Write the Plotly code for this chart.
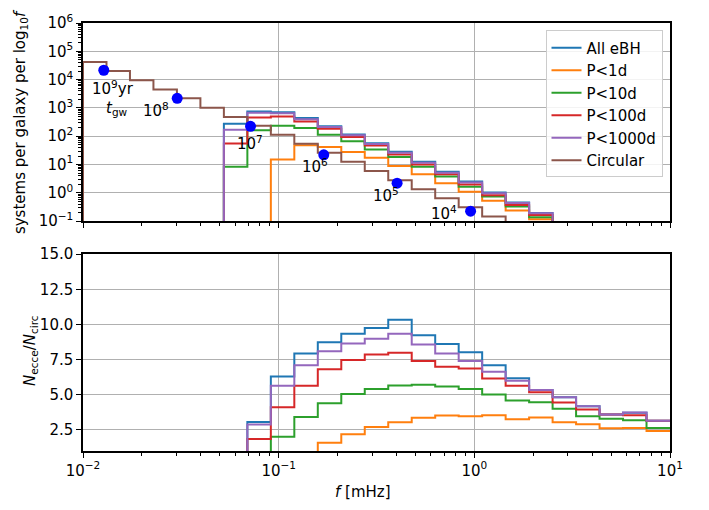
import math
import plotly.graph_objects as go

# ---------------- data ----------------
bin_edges_log10 = [-2.00, -1.88, -1.76, -1.64, -1.52, -1.40, -1.28, -1.16, -1.04, -0.92,
                   -0.80, -0.68, -0.56, -0.44, -0.32, -0.20, -0.08, 0.04, 0.16, 0.28,
                   0.40, 0.52, 0.64, 0.76, 0.88, 1.00]

series_names = ["All eBH", "P<1d", "P<10d", "P<100d", "P<1000d", "Circular"]
series_colors = ["#1f77b4", "#ff7f0e", "#2ca02c", "#d62728", "#9467bd", "#8c564b"]

# top panel: systems per galaxy per log10 f (first bin index, values)
top_start = [6, 8, 6, 6, 6, 0]
all_ebh = [275, 750, 708, 437, 224, 115, 56, 28.2, 12.6, 5.6, 2.5, 1.03, 0.46, 0.195]
p_1d = [15, 48, 42, 28, 17.4, 8.9, 4.5, 2.19, 1.10, 0.53, 0.237, 0.117]
p_10d = [8.4, 162, 234, 195, 113, 66, 34, 18.4, 8.4, 3.76, 1.64, 0.75, 0.33, 0.138]
p_100d = [55, 462, 500, 331, 182, 94, 47, 22.6, 10.1, 4.5, 1.97, 0.83, 0.37, 0.166]
p_1000d = [170, 676, 650, 400, 213, 109, 53.5, 26.1, 11.6, 5.1, 2.3, 0.97, 0.44, 0.19]
circular = [41700, 19950, 9550, 4520, 2190, 1023, 479, 234, 113.5, 53.7, 26.0, 12.6,
            5.94, 2.79, 1.35, 0.64, 0.31, 0.146]
top_values = [all_ebh, p_1d, p_10d, p_100d, p_1000d, circular]

# bottom panel: N_ecce / N_circ
ratio_start = [7, 9, 7, 7, 7]
ratio_all = [3.06, 6.29, 7.94, 8.73, 9.34, 9.74, 10.33, 9.23, 8.61, 8.03, 7.09, 6.18,
             5.34, 4.82, 4.19, 3.60, 3.72, 3.16]
ratio_1d = [0.89, 1.59, 2.20, 2.71, 3.05, 3.37, 3.53, 3.48, 3.55, 3.25, 3.39, 3.04,
            2.90, 2.62, 2.64, 2.43]
ratio_10d = [0.69, 2.01, 3.41, 4.40, 5.06, 5.41, 5.66, 5.71, 5.59, 5.41, 5.01, 4.59,
             4.47, 4.00, 3.48, 3.30, 3.18, 2.64]
ratio_100d = [1.85, 4.12, 5.64, 6.81, 7.47, 7.87, 7.98, 7.40, 7.00, 6.86, 6.15, 5.64,
              5.17, 4.45, 3.96, 3.60, 3.55, 3.16]
ratio_1000d = [2.88, 5.64, 7.10, 8.10, 8.64, 8.99, 9.34, 8.57, 7.94, 7.40, 6.63, 5.99,
               5.34, 4.82, 4.19, 3.60, 3.74, 3.16]
ratio_values = [ratio_all, ratio_1d, ratio_10d, ratio_100d, ratio_1000d]

# gravitational-wave timescale markers
tgw_f = [0.01277, 0.0303, 0.0718, 0.170, 0.403, 0.957]
tgw_n = [21400, 2190, 224, 22.1, 2.19, 0.224]
tgw_labels = ["10<sup>9</sup>yr", "<i>t</i><sub>gw</sub>", "10<sup>8</sup>", "10<sup>7</sup>",
              "10<sup>6</sup>", "10<sup>5</sup>", "10<sup>4</sup>"]
tgw_label_f = [0.01419, 0.01496, 0.02355, 0.0711, 0.1531, 0.352, 0.698]
tgw_label_n = [4898, 977, 832, 58.2, 9.12, 0.813, 0.19]

# ---------------- helpers ----------------
edges = [10 ** e for e in bin_edges_log10]


def steps(start, vals, floor, drop_end=True):
    xs = [edges[start]]
    ys = [floor]
    for i, v in enumerate(vals):
        k = start + i
        xs += [edges[k], edges[k + 1]]
        ys += [v, v]
    if drop_end:
        xs.append(edges[start + len(vals)])
        ys.append(floor)
    return xs, ys


W, H = 709, 510
ML, MR, MT, MB = 83, 39, 19, 59
PW, PH = W - ML - MR, H - MT - MB


def px_x(px):
    return (px - ML) / PW


def px_y(py):
    return (H - MB - py) / PH


fig = go.Figure()

for name, color, start, vals in zip(series_names, series_colors, top_start, top_values):
    xs, ys = steps(start, vals, 1e-3)
    fig.add_trace(go.Scatter(x=xs, y=ys, mode="lines", name=name,
                             line=dict(color=color, width=2),
                             xaxis="x", yaxis="y", showlegend=True))

fig.add_trace(go.Scatter(x=tgw_f, y=tgw_n, mode="markers",
                         marker=dict(color="#0000ff", size=11),
                         xaxis="x", yaxis="y", showlegend=False))

for name, color, start, vals in zip(series_names[:5], series_colors[:5], ratio_start, ratio_values):
    xs, ys = steps(start, vals, 0.0, drop_end=False)
    fig.add_trace(go.Scatter(x=xs, y=ys, mode="lines", name=name,
                             line=dict(color=color, width=2),
                             xaxis="x2", yaxis="y2", showlegend=False))

font = dict(family="DejaVu Sans", size=15, color="black")
grid = "#b0b0b0"
minor = dict(ticks="outside", ticklen=3, tickcolor="black", tickwidth=1, showgrid=False)

top_dom = [px_y(219), 1.0]
bot_dom = [0.0, px_y(252.3)]

fig.update_layout(
    width=W, height=H,
    margin=dict(l=ML, r=MR, t=MT, b=MB, pad=0),
    paper_bgcolor="white", plot_bgcolor="white",
    font=font,
    showlegend=True,
    legend=dict(x=px_x(662.5), y=px_y(26.5), xanchor="right", yanchor="top",
                bgcolor="rgba(255,255,255,0.85)", bordercolor="#cccccc", borderwidth=1,
                font=dict(family="DejaVu Sans", size=15, color="black")),
    xaxis=dict(type="log", range=[-2, 1], domain=[0, 1], anchor="y",
               showticklabels=False, ticks="outside", ticklen=5, tickwidth=1.2,
               tickcolor="black", tickvals=[0.01, 0.1, 1, 10],
               minor=dict(dtick="D1", **minor),
               showgrid=True, gridcolor=grid, gridwidth=1.2,
               showline=True, linecolor="black", linewidth=1.5, mirror=True, zeroline=False),
    yaxis=dict(type="log", range=[-1, 6], domain=top_dom, anchor="x",
               tickvals=[0.1, 1, 10, 100, 1e3, 1e4, 1e5, 1e6],
               ticktext=["10<sup>\u22121</sup>", "10<sup>0</sup>", "10<sup>1</sup>",
                         "10<sup>2</sup>", "10<sup>3</sup>", "10<sup>4</sup>",
                         "10<sup>5</sup>", "10<sup>6</sup>"],
               ticks="outside", ticklen=5, tickwidth=1.2, tickcolor="black",
               minor=dict(dtick="D1", **minor),
               showgrid=True, gridcolor=grid, gridwidth=1.2,
               showline=True, linecolor="black", linewidth=1.5, mirror=True, zeroline=False),
    xaxis2=dict(type="log", range=[-2, 1], domain=[0, 1], anchor="y2",
                tickvals=[0.01, 0.1, 1, 10],
                ticktext=["10<sup>\u22122</sup>", "10<sup>\u22121</sup>", "10<sup>0</sup>",
                          "10<sup>1</sup>"],
                ticks="outside", ticklen=5, tickwidth=1.2, tickcolor="black",
                minor=dict(dtick="D1", **minor),
                showgrid=True, gridcolor=grid, gridwidth=1.2,
                showline=True, linecolor="black", linewidth=1.5, mirror=True, zeroline=False),
    yaxis2=dict(range=[1, 15], domain=bot_dom, anchor="x2",
                tickvals=[2.5, 5.0, 7.5, 10.0, 12.5, 15.0],
                ticktext=["2.5", "5.0", "7.5", "10.0", "12.5", "15.0"],
                ticks="outside", ticklen=5, tickwidth=1.2, tickcolor="black",
                showgrid=True, gridcolor=grid, gridwidth=1.2,
                showline=True, linecolor="black", linewidth=1.5, mirror=True, zeroline=False),
)

annotations = []
for txt, fx, ny in zip(tgw_labels, tgw_label_f, tgw_label_n):
    annotations.append(dict(x=math.log10(fx), y=math.log10(ny), xref="x", yref="y",
                            text=txt, showarrow=False, font=dict(size=15, color="black"),
                            xanchor="center", yanchor="middle"))

annotations.append(dict(x=px_x(363), y=px_y(492), xref="paper", yref="paper",
                        text="<i>f</i> [mHz]", showarrow=False,
                        xanchor="center", yanchor="middle", font=dict(size=15)))
annotations.append(dict(x=px_x(20), y=px_y(119), xref="paper", yref="paper",
                        text="systems per galaxy per log<sub>10</sub><i>f</i>", showarrow=False,
                        textangle=-90, xanchor="center", yanchor="middle", font=dict(size=15)))
annotations.append(dict(x=px_x(31), y=px_y(350), xref="paper", yref="paper",
                        text="<i>N</i><sub>ecce</sub>/<i>N</i><sub>circ</sub>", showarrow=False,
                        textangle=-90, xanchor="center", yanchor="middle", font=dict(size=15)))
fig.update_layout(annotations=annotations)

fig.write_html("out.html")
